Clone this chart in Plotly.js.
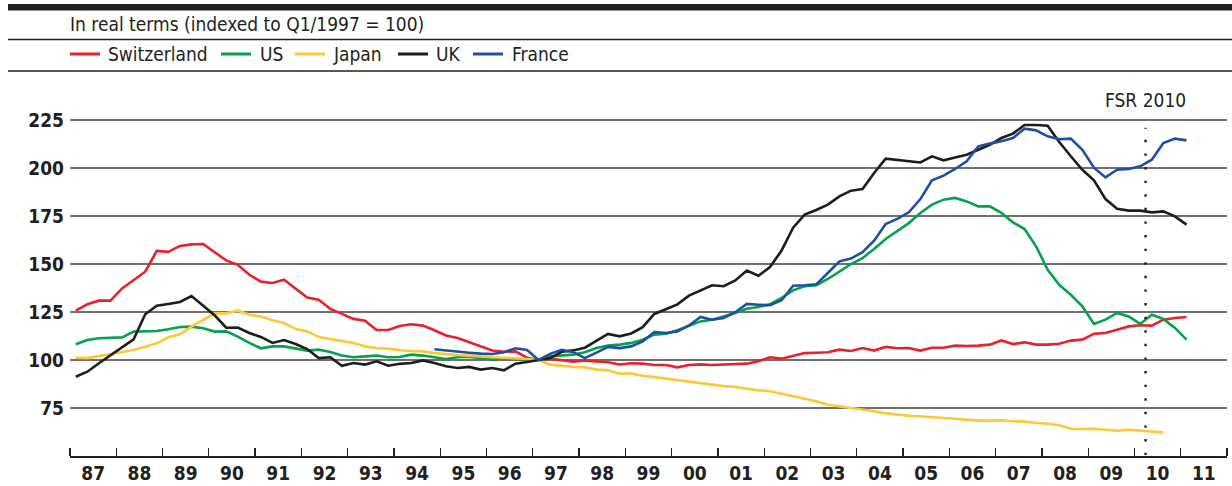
<!DOCTYPE html>
<html>
<head>
<meta charset="utf-8">
<script src="https://cdn.plot.ly/plotly-3.0.1.min.js"></script>
<style>
  html, body { margin: 0; padding: 0; background: #ffffff; }
  #chart { width: 1232px; height: 486px; }
</style>
</head>
<body>
<div id="chart"></div>
<script>
// ---------- DATA (quarterly, indexed to Q1/1997 = 100) ----------
const firstYear = 1987;            // first quarter of all series: 1987 Q1
const yearLabels = ["87","88","89","90","91","92","93","94","95","96","97","98","99","00","01","02","03","04","05","06","07","08","09","10","11"];

const switzerland = [125.7,129.0,130.9,130.9,137.3,141.7,146.0,156.8,156.3,159.4,160.2,160.4,156.1,151.9,149.6,
  144.4,140.8,140.1,141.8,137.0,132.6,131.4,126.6,124.0,121.4,120.5,115.6,115.6,117.7,
  118.6,117.9,115.5,112.8,111.5,109.4,107.1,104.9,104.3,104.5,101.2,100.0,100.7,100.0,
  99.1,99.7,99.3,98.8,97.7,98.3,98.1,97.4,97.4,96.2,97.4,97.7,97.4,97.6,
  97.9,98.1,99.3,101.4,100.7,102.3,103.6,103.8,104.0,105.4,104.7,106.2,104.9,106.8,106.1,
  106.2,104.9,106.4,106.4,107.5,107.3,107.5,108.0,110.2,108.3,109.2,108.0,108.0,108.5,
  110.1,110.6,113.7,114.1,115.8,117.5,118.1,117.9,121.0,121.9,122.4];

const us = [108.2,110.4,111.3,111.6,111.8,114.8,115.1,115.1,116.0,117.2,117.4,116.5,114.8,114.9,112.2,
  108.9,106.1,107.1,107.1,105.9,104.9,105.4,104.2,102.3,101.4,101.9,102.3,101.4,101.6,
  102.8,102.3,101.4,100.5,101.4,101.7,100.9,100.3,100.7,100.5,100.3,100.0,101.9,102.5,
  102.8,104.0,106.2,107.5,108.0,108.9,110.6,113.2,113.7,115.5,117.9,120.1,121.0,122.7,
  124.5,126.7,127.6,129.0,132.3,136.3,138.4,138.9,142.2,146.0,150.0,153.1,157.8,163.0,167.0,
  171.3,176.6,180.9,183.5,184.4,182.6,180.0,180.0,176.6,171.7,168.2,159.2,147.0,139.2,
  134.0,128.0,118.8,121.0,124.5,122.7,118.8,123.6,121.4,116.7,110.6];

const japan = [101.2,101.0,102.1,103.1,104.3,105.2,106.9,108.7,111.8,113.4,117.4,120.8,124.3,124.3,125.7,
  123.6,122.7,120.7,119.3,116.1,114.9,112.0,110.9,109.7,108.9,107.1,106.1,105.9,105.1,
  104.7,104.5,103.6,103.0,102.6,102.3,101.7,101.4,101.2,101.0,100.5,100.0,97.6,97.0,
  96.4,96.2,95.0,94.6,92.9,92.9,91.8,91.1,90.3,89.8,88.7,88.0,87.2,86.4,
  85.9,84.9,84.2,83.7,82.3,81.1,79.7,78.5,76.7,75.9,75.0,74.1,73.3,72.2,71.5,
  71.0,70.7,70.1,69.8,69.4,68.9,68.4,68.4,68.6,68.1,67.9,67.2,66.8,66.0,
  64.2,64.1,64.2,63.7,63.2,63.7,63.2,62.5,62.3];

const uk = [91.3,93.9,98.3,102.6,106.6,110.8,123.8,128.3,129.2,130.2,133.3,128.5,123.3,116.8,116.9,
  114.1,112.0,108.9,110.4,108.3,105.7,101.0,101.4,97.0,98.4,97.6,99.3,97.0,98.0,
  98.4,99.8,98.4,96.7,95.8,96.4,95.0,95.8,94.6,98.1,99.0,100.0,101.0,104.3,
  105.0,106.4,110.0,113.6,112.3,113.8,117.1,124.0,126.4,129.0,133.5,136.1,138.9,138.4,
  141.4,146.6,143.9,148.4,157.0,168.9,175.7,178.1,180.9,185.2,188.2,189.1,197.4,204.9,204.3,
  203.5,202.9,206.1,204.0,205.5,206.9,209.5,212.1,215.6,217.9,222.4,222.4,222.0,213.5,
  206.1,199.1,193.6,183.8,178.8,177.8,177.8,176.9,177.4,174.8,170.5];

const franceStartQuarter = 31;     // France series begins in 1994 Q4
const france = [105.6,104.9,104.3,103.8,103.3,103.1,104.0,106.1,105.2,100.0,103.2,105.3,
  104.1,101.0,103.8,106.8,106.2,107.1,109.7,114.5,114.1,114.9,118.0,122.4,121.0,121.9,
  124.9,129.2,128.8,128.5,131.1,138.7,138.9,139.4,145.3,151.4,152.8,156.2,162.1,170.8,173.5,
  176.9,183.8,193.6,196.0,199.5,203.5,211.3,212.7,213.9,215.6,220.5,219.6,216.5,215.0,
  215.3,209.5,200.2,195.1,199.1,199.5,200.9,204.3,213.0,215.3,214.4];

const seriesNames  = ["Switzerland","US","Japan","UK","France"];
const seriesColors = ["#e8212b","#05a14b","#fdc833","#1d1d1b","#1d4fa3"];
const fsrDate = 2010.24;           // FSR 2010 marker
const fsrLabel = "FSR 2010";
const subtitle = "In real terms (indexed to Q1/1997 = 100)";
const yTicks = [75,100,125,150,175,200,225];

// ---------- BUILD ----------
function quarterX(idx) { return firstYear + (idx + 0.5) / 4; }
function xs(values, start) { return values.map((v, i) => quarterX(start + i)); }

const seriesData = [
  {y: switzerland, start: 0},
  {y: us, start: 0},
  {y: japan, start: 0},
  {y: uk, start: 0},
  {y: france, start: franceStartQuarter}
];

const traces = seriesData.map((s, k) => ({
  type: "scatter", mode: "lines",
  name: seriesNames[k],
  x: xs(s.y, s.start), y: s.y,
  line: {color: seriesColors[k], width: 2.6},
  showlegend: false, hoverinfo: "skip"
}));

const FONT = "DejaVu Sans Condensed, DejaVu Sans, sans-serif";
const ink = "#231f20";

// pixel -> paper helpers (plot area: x 70..1227, y 96..456)
const L = 70, R = 1227, T = 96, B = 456;
const px = x => (x - L) / (R - L);
const py = y => (B - y) / (B - T);

const shapes = [
  {type: "rect", xref: "paper", yref: "paper", x0: px(8), x1: px(1232), y0: py(10.5), y1: py(4), fillcolor: ink, line: {width: 0}},
  {type: "line", xref: "paper", yref: "paper", x0: px(8), x1: px(1232), y0: py(39.5), y1: py(39.5), line: {color: ink, width: 1.3}},
  {type: "line", xref: "paper", yref: "paper", x0: px(8), x1: px(1232), y0: py(71), y1: py(71), line: {color: ink, width: 1.3}},
  {type: "line", xref: "x", yref: "y", x0: fsrDate, x1: fsrDate, y0: 50.5, y1: 221, line: {color: ink, width: 2.4, dash: "2.4px,11.2px"}}
];

const annotations = [
  {xref: "paper", yref: "paper", x: px(68), y: py(23.5), xanchor: "left", yanchor: "middle", text: subtitle, showarrow: false, font: {family: FONT, size: 19, color: ink}},
  {xref: "x", yref: "paper", x: fsrDate, y: py(100), xanchor: "center", yanchor: "middle", text: fsrLabel, showarrow: false, font: {family: FONT, size: 19, color: ink}}
];

// manual legend
const legLine = [[70,100],[221,251],[295,325],[398,428],[473,503]];
const legText = [106, 258, 331, 434, 510];
seriesNames.forEach((n, k) => {
  shapes.push({type: "line", xref: "paper", yref: "paper", x0: px(legLine[k][0]), x1: px(legLine[k][1]), y0: py(54), y1: py(54), line: {color: seriesColors[k], width: 3}});
  annotations.push({xref: "paper", yref: "paper", x: px(legText[k]), y: py(54), xanchor: "left", yanchor: "middle", text: n, showarrow: false, font: {family: FONT, size: 19, color: ink}});
});

const yearTickVals = yearLabels.map((_, i) => firstYear + i + 0.5);
const yearBounds = yearLabels.map((_, i) => firstYear + i).concat([firstYear + yearLabels.length]);

const layout = {
  width: 1232, height: 486,
  margin: {l: L, r: 1232 - R, t: T, b: 486 - B, pad: 0},
  paper_bgcolor: "#ffffff", plot_bgcolor: "#ffffff",
  font: {family: FONT, size: 19, color: ink},
  showlegend: false,
  xaxis: {
    range: [firstYear, firstYear + yearLabels.length],
    tickmode: "array", tickvals: yearTickVals, ticktext: yearLabels,
    ticks: "", showgrid: false, zeroline: false,
    showline: true, linecolor: ink, linewidth: 1.5,
    tickfont: {family: FONT, size: 19, color: ink, weight: "bold"},
    ticklabelstandoff: 0,
    minor: {tickmode: "array", tickvals: yearBounds, ticks: "inside", ticklen: 8, tickwidth: 1.3, tickcolor: ink, showgrid: false},
    fixedrange: true
  },
  yaxis: {
    range: [50, 237.5],
    tickmode: "array", tickvals: yTicks,
    ticks: "", showgrid: true, gridcolor: "#707070", gridwidth: 1.4,
    zeroline: false, showline: false,
    tickfont: {family: FONT, size: 19, color: ink, weight: "bold"},
    ticklabelstandoff: 5,
    fixedrange: true
  },
  shapes: shapes,
  annotations: annotations
};

Plotly.newPlot("chart", traces, layout, {staticPlot: true, displayModeBar: false});
</script>
</body>
</html>
